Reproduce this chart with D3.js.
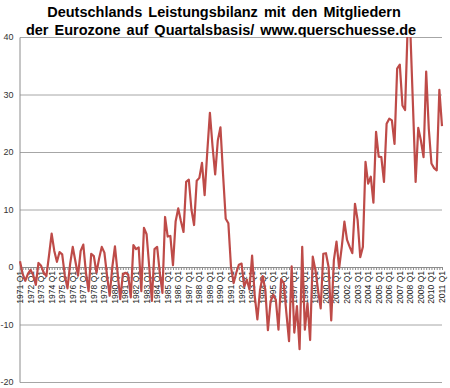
<!DOCTYPE html>
<html>
<head>
<meta charset="utf-8">
<script src="https://cdn.jsdelivr.net/npm/d3@7"></script>
<style>
  body { margin: 0; background: #fff; }
  svg { display: block; }
</style>
</head>
<body>
<div id="chart"></div>
<script>
const WIDTH = 450
const HEIGHT = 388

const titleLines = [
    'Deutschlands Leistungsbilanz mit den Mitgliedern',
    'der Eurozone auf Quartalsbasis/ www.querschuesse.de'
]

const startYear = 1971
// Mrd. Euro per quarter, 1971 Q1 .. 2011 Q1
const values = [
    1.0, -1.2, -2.4, -1.2,     // 1971
    -0.5, -1.4, -3.1, 0.7,     // 1972
    0.2, -1.0, -1.6, 2.0,      // 1973
    5.8, 2.8, 0.9, 2.6,        // 1974
    2.2, -1.5, -3.7, 0.5,      // 1975
    3.5, 1.0, -1.5, 2.8,       // 1976
    3.9, -1.0, -4.2, 2.3,      // 1977
    1.9, -1.0, 1.5, 3.5,       // 1978
    2.5, -1.5, -5.0, 0.0,      // 1979
    3.6, -1.0, -5.6, -1.3,     // 1980
    -1.0, -1.3, -5.3, 3.8,     // 1981
    3.1, 3.4, -4.2, 6.8,       // 1982
    5.7, 0.0, -5.9, 3.1,       // 1983
    3.5, -1.0, -4.5, 8.7,      // 1984
    5.3, 5.4, 0.3, 7.9,        // 1985
    10.2, 8.0, 6.1, 14.8,      // 1986
    15.2, 10.0, 7.3, 15.0,     // 1987
    15.5, 18.1, 12.5, 20.0,    // 1988
    26.8, 21.0, 16.1, 22.0,    // 1989
    24.3, 16.0, 8.4, 7.6,      // 1990
    0.0, -2.8, -1.0, 0.4,      // 1991
    0.6, -3.4, -2.2, -3.9,     // 1992
    2.0, -5.0, -9.1, -4.0,     // 1993
    -1.6, -3.9, -11.0, -6.0,   // 1994
    -4.8, -5.7, -10.9, -2.1,   // 1995
    -2.8, -8.0, -12.9, 0.1,    // 1996
    -11.4, -6.8, -14.3, 3.5,   // 1997
    -10.9, -6.3, -12.7, 1.8,   // 1998
    -0.5, -4.0, -7.2, 2.3,     // 1999
    2.4, 0.0, -9.3, 1.2,       // 2000
    4.4, -0.2, 3.5, 7.9,       // 2001
    4.7, 3.5, 2.4, 11.0,       // 2002
    8.2, 1.7, 3.5, 18.3,       // 2003
    14.5, 15.7, 11.2, 23.5,    // 2004
    19.2, 19.1, 14.8, 24.9,    // 2005
    25.8, 25.5, 21.4, 34.5,    // 2006
    35.2, 28.1, 27.3, 42.0,    // 2007
    41.0, 28.0, 14.8, 24.2,    // 2008
    22.0, 19.1, 34.0, 24.0,    // 2009
    18.0, 17.2, 16.8, 30.8,    // 2010
    24.5                       // 2011
]
const yTicks = [-20, -10, 0, 10, 20, 30, 40]

const svg = d3.select('#chart')
    .append('svg')
        .attr('width', WIDTH)
        .attr('height', HEIGHT)

const x = d3.scaleLinear()
    .domain([0, values.length - 1])
    .range([20, 442])

const y = d3.scaleLinear()
    .domain([-20, 40])
    .range([382, 37])

// title
svg.append('g').selectAll('text')
    .data(titleLines)
    .enter().append('text')
        .attr('x', (d, i) => i === 0 ? 224 : 221)
        .attr('y', (d, i) => 17 + i * 18)
        .attr('text-anchor', 'middle')
        .attr('font-family', 'Liberation Sans, Arial, sans-serif')
        .attr('font-weight', 'bold')
        .attr('font-size', 14.5)
        .attr('word-spacing', 2)
        .attr('fill', '#000')
        .text(d => d)

// horizontal grid lines
svg.append('g')
    .attr('transform', 'translate(20, 0)')
    .call(d3.axisLeft(y).tickValues(yTicks).tickSize(-422).tickFormat(''))
    .call(g => g.select('.domain').remove())
    .call(g => g.selectAll('line').attr('stroke', '#a6a6a6'))

// y axis (plain hyphen for negatives, like the original)
svg.append('g')
    .attr('transform', 'translate(19.5, 0)')
    .call(d3.axisLeft(y).tickValues(yTicks).tickSize(0).tickPadding(6).tickFormat(d => String(d)))
    .call(g => g.select('.domain').attr('stroke', '#8c8c8c'))
    .call(g => g.selectAll('text')
        .attr('font-family', 'Liberation Sans, Arial, sans-serif')
        .attr('font-size', 9)
        .attr('fill', '#333'))

// x axis at zero, a tick every quarter
const xAxis = svg.append('g')
    .attr('transform', `translate(0, ${ y(0) })`)
    .call(d3.axisBottom(x).tickValues(d3.range(values.length)).tickSize(3).tickFormat(''))
xAxis.select('.domain').attr('stroke', '#8c8c8c')
xAxis.selectAll('line').attr('stroke', '#8c8c8c')

// year labels, rotated, reading upwards
svg.append('g').selectAll('text')
    .data(d3.range(0, values.length, 4))
    .enter().append('text')
        .attr('transform', i => `translate(${ x(i) }, ${ y(0) + 4 }) rotate(-90)`)
        .attr('dy', '0.35em')
        .attr('text-anchor', 'end')
        .attr('font-family', 'Liberation Sans, Arial, sans-serif')
        .attr('font-size', 8.5)
        .attr('fill', '#222')
        .text(i => `${ startYear + i / 4 } Q1`)

// clip the line to the plot area
svg.append('clipPath')
    .attr('id', 'plot-clip')
    .append('rect')
        .attr('x', 0)
        .attr('y', y(40))
        .attr('width', WIDTH)
        .attr('height', y(-20) - y(40))

const line = d3.line()
    .x((d, i) => x(i))
    .y(d => y(d))

svg.append('path')
    .datum(values)
    .attr('clip-path', 'url(#plot-clip)')
    .attr('fill', 'none')
    .attr('stroke', '#be4b48')
    .attr('stroke-width', 2.2)
    .attr('stroke-linejoin', 'round')
    .attr('d', line)
</script>
</body>
</html>
